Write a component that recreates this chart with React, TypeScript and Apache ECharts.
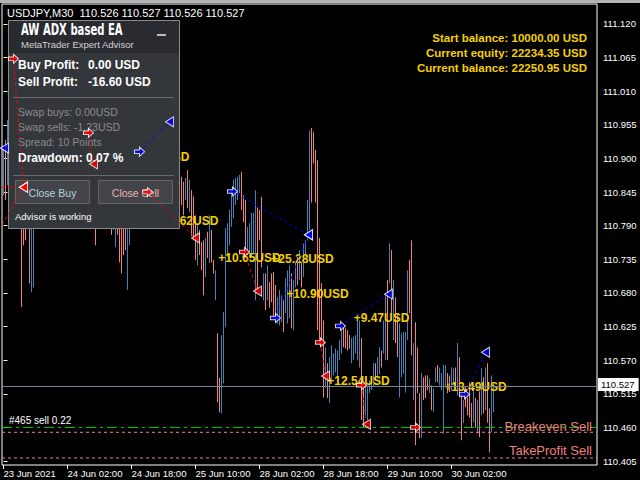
import React, { useEffect, useRef } from 'react';
import * as echarts from 'echarts';

// ---------- data ----------
const xTickLabels = ['23 Jun 2021', '24 Jun 02:00', '24 Jun 18:00', '25 Jun 10:00', '28 Jun 02:00', '28 Jun 18:00', '29 Jun 10:00', '30 Jun 02:00'];
const xTickBars = [0, 32, 64, 96, 128, 160, 192, 224];
const yTicks = [110.405, 110.46, 110.515, 110.57, 110.625, 110.68, 110.735, 110.79, 110.845, 110.9, 110.955, 111.01, 111.065, 111.12];

const barHighs = [
  110.914, 110.930, 110.963, 110.996, 111.036, 111.064, 111.045, 110.979, 110.914, 110.865,
  110.857, 110.848, 110.832, 110.824, 110.807, 110.816, 110.848, 110.865, 110.881, 110.889,
  110.873, 110.865, 110.881, 110.905, 110.914, 110.897, 110.889, 110.914, 110.930, 110.938,
  110.922, 110.914, 110.930, 110.946, 110.963, 110.955, 110.938, 110.955, 110.971, 110.979,
  110.963, 110.971, 110.963, 110.950, 110.930, 110.914, 110.873, 110.857, 110.873, 110.889,
  110.881, 110.865, 110.873, 110.857, 110.840, 110.832, 110.824, 110.832, 110.816, 110.807,
  110.799, 110.807, 110.824, 110.840, 110.865, 110.881, 110.897, 110.914, 110.922, 110.914,
  110.889, 110.873, 110.857, 110.865, 110.889, 110.905, 110.914, 110.922, 110.930, 110.938,
  110.946, 110.950, 110.959, 110.966, 110.946, 110.922, 110.905, 110.889, 110.881, 110.870,
  110.862, 110.868, 110.881, 110.865, 110.848, 110.838, 110.807, 110.791, 110.783, 110.763,
  110.766, 110.770, 110.780, 110.807, 110.783, 110.734, 110.717, 110.614, 110.541, 110.611,
  110.649, 110.786, 110.794, 110.816, 110.848, 110.865, 110.868, 110.870, 110.873, 110.878,
  110.840, 110.832, 110.788, 110.794, 110.811, 110.811, 110.848, 110.820, 110.816, 110.837,
  110.712, 110.712, 110.725, 110.698, 110.712, 110.714, 110.693, 110.673, 110.685, 110.676,
  110.668, 110.704, 110.717, 110.725, 110.712, 110.701, 110.729, 110.739, 110.750, 110.730,
  110.761, 110.766, 110.832, 110.946, 110.950, 110.943, 110.914, 110.897, 110.770, 110.696,
  110.635, 110.591, 110.565, 110.575, 110.594, 110.581, 110.589, 110.586, 110.603, 110.619,
  110.624, 110.622, 110.619, 110.611, 110.606, 110.608, 110.611, 110.635, 110.635, 110.606,
  110.526, 110.532, 110.526, 110.537, 110.542, 110.565, 110.565, 110.575, 110.591, 110.586,
  110.635, 110.679, 110.701, 110.761, 110.750, 110.701, 110.673, 110.647, 110.630, 110.614,
  110.616, 110.616, 110.717, 110.734, 110.766, 110.598, 110.632, 110.591, 110.516, 110.549,
  110.542, 110.545, 110.545, 110.540, 110.529, 110.524, 110.558, 110.562, 110.558, 110.549,
  110.562, 110.562, 110.549, 110.545, 110.558, 110.557, 110.558, 110.598, 110.575, 110.516,
  110.505, 110.526, 110.509, 110.534, 110.500, 110.524, 110.508, 110.505, 110.519, 110.557,
  110.542, 110.558, 110.565, 110.491, 110.545, 110.532,
];
const barLows = [
  110.840, 110.832, 110.856, 110.881, 110.946, 110.979, 110.930, 110.881, 110.832, 110.657,
  110.758, 110.766, 110.791, 110.696, 110.681, 110.689, 110.799, 110.807, 110.824, 110.832,
  110.816, 110.799, 110.832, 110.848, 110.865, 110.840, 110.816, 110.857, 110.873, 110.889,
  110.865, 110.848, 110.881, 110.897, 110.905, 110.889, 110.881, 110.897, 110.914, 110.930,
  110.914, 110.922, 110.930, 110.897, 110.873, 110.848, 110.758, 110.799, 110.824, 110.832,
  110.816, 110.799, 110.807, 110.791, 110.775, 110.783, 110.755, 110.775, 110.730, 110.712,
  110.742, 110.750, 110.685, 110.758, 110.807, 110.824, 110.840, 110.865, 110.873, 110.857,
  110.848, 110.832, 110.816, 110.824, 110.840, 110.857, 110.873, 110.881, 110.889, 110.897,
  110.905, 110.897, 110.914, 110.922, 110.897, 110.873, 110.857, 110.832, 110.816, 110.824,
  110.807, 110.832, 110.819, 110.812, 110.773, 110.766, 110.734, 110.725, 110.742, 110.717,
  110.676, 110.706, 110.737, 110.729, 110.730, 110.712, 110.668, 110.501, 110.485, 110.483,
  110.532, 110.624, 110.739, 110.758, 110.788, 110.802, 110.824, 110.832, 110.843, 110.816,
  110.796, 110.747, 110.750, 110.739, 110.739, 110.745, 110.668, 110.685, 110.766, 110.722,
  110.668, 110.652, 110.668, 110.656, 110.665, 110.640, 110.635, 110.630, 110.627, 110.632,
  110.616, 110.647, 110.630, 110.639, 110.622, 110.619, 110.689, 110.693, 110.701, 110.689,
  110.706, 110.739, 110.766, 110.783, 110.828, 110.892, 110.828, 110.619, 110.599, 110.603,
  110.509, 110.525, 110.508, 110.500, 110.542, 110.545, 110.550, 110.542, 110.570, 110.581,
  110.591, 110.589, 110.586, 110.589, 110.565, 110.570, 110.581, 110.570, 110.558, 110.472,
  110.460, 110.476, 110.472, 110.516, 110.521, 110.526, 110.537, 110.540, 110.547, 110.558,
  110.581, 110.570, 110.570, 110.696, 110.635, 110.603, 110.598, 110.575, 110.509, 110.542,
  110.548, 110.517, 110.603, 110.647, 110.578, 110.505, 110.431, 110.516, 110.442, 110.443,
  110.505, 110.508, 110.521, 110.516, 110.488, 110.485, 110.534, 110.534, 110.529, 110.521,
  110.450, 110.526, 110.516, 110.518, 110.521, 110.529, 110.524, 110.512, 110.509, 110.439,
  110.467, 110.493, 110.480, 110.476, 110.460, 110.468, 110.459, 110.450, 110.444, 110.480,
  110.483, 110.488, 110.468, 110.419, 110.452, 110.485,
];
// 1 = bull bar (blue), 0 = bear bar (salmon)
const barUp = [
  1, 0, 1, 1, 1, 0, 0, 0, 0, 0,
  0, 0, 1, 0, 1, 1, 1, 1, 1, 0,
  0, 1, 1, 1, 0, 0, 1, 1, 1, 0,
  0, 1, 1, 1, 0, 0, 1, 1, 1, 0,
  1, 1, 0, 0, 0, 0, 0, 1, 1, 0,
  0, 1, 0, 0, 0, 1, 1, 0, 0, 0,
  0, 0, 1, 1, 1, 1, 1, 0, 1, 0,
  0, 0, 0, 1, 1, 1, 0, 1, 1, 1,
  0, 1, 1, 0, 0, 0, 0, 0, 0, 0,
  0, 1, 0, 1, 0, 0, 0, 1, 0, 0,
  0, 1, 0, 1, 0, 0, 1, 0, 0, 1,
  1, 1, 1, 1, 1, 1, 1, 1, 1, 0,
  0, 0, 1, 1, 1, 1, 1, 0, 0, 0,
  1, 0, 1, 0, 0, 0, 0, 1, 1, 1,
  0, 1, 1, 1, 0, 1, 1, 0, 1, 0,
  1, 1, 1, 1, 0, 0, 0, 0, 0, 0,
  0, 1, 0, 1, 1, 1, 1, 1, 1, 1,
  0, 0, 0, 0, 1, 1, 1, 1, 1, 0,
  0, 1, 1, 1, 1, 1, 0, 1, 1, 0,
  1, 1, 0, 1, 0, 1, 0, 0, 1, 1,
  1, 1, 1, 0, 0, 1, 0, 0, 0, 1,
  0, 0, 0, 1, 0, 1, 1, 0, 1, 1,
  1, 1, 0, 0, 1, 1, 0, 1, 0, 0,
  1, 0, 0, 0, 0, 1, 0, 1, 0, 1,
  0, 1, 0, 0, 1, 1,
];

// trades: [openBar, openPrice, closeBar, closePrice]
const sellTrades = [
  [-10, 110.853, 10, 110.853],
  [-5, 110.766, 10, 110.853],
  [5, 111.063, 10, 110.853],
  [42.5, 110.942, 45, 110.891],
  [72, 110.845, 96, 110.770],
  [120.5, 110.747, 127, 110.683],
  [158.5, 110.599, 161, 110.544],
  [179, 110.529, 181.5, 110.465],
];
const buyTrades = [
  [68, 110.911, 83, 110.960],
  [114.5, 110.846, 152.5, 110.775],
  [136, 110.639, 152.5, 110.775],
  [168.5, 110.626, 192.5, 110.678],
  [230.5, 110.514, 241, 110.583],
];
const extraBuyCloses = [[0.5, 110.917]];
const openSell = [206, 110.460];

const profitTexts = ['+11.41USD', '+9.62USD', '+10.65USD', '+25.28USD', '+10.90USD', '+9.47USD', '+12.54USD', '+13.49USD'];
const profitBars = [77.5, 93.5, 123, 149.5, 157, 189, 177.5, 236];
const profitPrices = [110.902, 110.797, 110.737, 110.735, 110.678, 110.639, 110.536, 110.526];

const currentPrice = 110.527;
const orderPrice = 110.460;
const breakevenPrice = 110.452;
const takeProfitPrice = 110.410;

const headerText = 'USDJPY,M30  110.526 110.527 110.526 110.527';
const balanceLines = ['Start balance: 10000.00 USD', 'Current equity: 22234.35 USD', 'Current balance: 22250.95 USD'];

// ---------- styles ----------
const SALMON = '#f08080';
const STEEL = '#4682b4';
const YELLOW = '#f5d000';
const GREEN = '#00cc00';
const FONT = 'Liberation Sans';
const X_MIN = -0.75;
const X_MAX = 296.75;
const Y_MIN = 110.3985;
const Y_MAX = 111.1527;
const CLEAR = 'rgba(0,0,0,0)';

const OPEN_ARROW = 'path://M0,3 L5,3 L5,0 L10,5 L5,10 L5,7 L0,7 Z';
const CLOSE_ARROW = 'path://M10,0 L10,10 L0,5 Z';

function buildOption() {
  // vertical high-low segments, broken by gaps
  const segs = (up: number) => {
    const d: any[] = [];
    barHighs.forEach((h, i) => {
      if (barUp[i] === up) d.push([i, barLows[i]], [i, h], [i, '-']);
    });
    return d;
  };
  const barSeries = (up: number, color: string) => ({
    type: 'line',
    data: segs(up),
    symbol: 'none',
    showSymbol: false,
    connectNulls: false,
    silent: true,
    clip: true,
    z: 2,
    itemStyle: { color },
    lineStyle: { color, width: 1, opacity: 1 },
  });

  const hLine = (price: number, color: string, type: any, z = 4) => ({
    type: 'line',
    data: [[X_MIN, price], [X_MAX, price]],
    symbol: 'none',
    silent: true,
    clip: true,
    z,
    itemStyle: { color },
    lineStyle: { color, width: 1, type, opacity: 1 },
  });

  const tradeLineSeries: any[] = [];
  const markers: any[] = [];
  const addTrades = (list: number[][], color: string) => {
    list.forEach((t) => {
      tradeLineSeries.push({
        type: 'line',
        data: [[t[0], t[1]], [t[2], t[3]]],
        symbol: 'none',
        silent: true,
        z: 10,
        clip: true,
        lineStyle: { color, width: 1, type: [3, 3] },
      });
      markers.push({ value: [t[0], t[1]], symbol: OPEN_ARROW, symbolSize: [10, 9], itemStyle: { color, borderColor: '#fff', borderWidth: 1 } });
      markers.push({ value: [t[2], t[3]], symbol: CLOSE_ARROW, symbolSize: [8, 10], itemStyle: { color, borderColor: '#fff', borderWidth: 1 } });
    });
  };
  addTrades(sellTrades, '#ff0000');
  addTrades(buyTrades, '#0000ff');
  extraBuyCloses.forEach((p) => markers.push({ value: p, symbol: CLOSE_ARROW, symbolSize: [8, 10], itemStyle: { color: '#0000ff', borderColor: '#fff', borderWidth: 1 } }));
  markers.push({ value: openSell, symbol: OPEN_ARROW, symbolSize: [10, 9], itemStyle: { color: '#ff0000', borderColor: '#fff', borderWidth: 1 } });

  const panelZ = 5;
  const txt = (x: number, y: number, text: string, fill: string, size: number, bold = false, align = 'left', extra: any = {}, family = FONT) => ({
    type: 'text', x, y, z: panelZ + 1,
    style: { text, fill, fontSize: size, fontWeight: bold ? 'bold' : 'normal', fontFamily: family, align, verticalAlign: 'middle' },
    ...extra,
  });

  const graphics: any[] = [
    { type: 'rect', z: 20, shape: { x: 0, y: 0, width: 640, height: 3 }, style: { fill: '#b4b4b4' } },
    { type: 'text', x: 7, y: 13, z: 20, style: { text: headerText, fill: '#fff', fontSize: 11, fontFamily: FONT, verticalAlign: 'middle' } },
    ...balanceLines.map((t, k) => ({ type: 'text', x: 587, y: 38 + k * 15, z: 20, style: { text: t, fill: YELLOW, fontSize: 11.5, fontWeight: 'bold', fontFamily: FONT, align: 'right', verticalAlign: 'middle' } })),
    // panel
    { type: 'rect', z: panelZ, shape: { x: 8.5, y: 20.5, width: 171, height: 208 }, style: { fill: '#33363b', stroke: '#8a8a8a', lineWidth: 1 } },
    { type: 'rect', z: panelZ, shape: { x: 9, y: 21, width: 170, height: 32 }, style: { fill: '#2a2b31' } },
    txt(21, 30, 'AW ADX based EA', '#fff', 16, true, 'left', { scaleX: 0.63 }, 'DejaVu Sans'),
    txt(21, 44, 'MetaTrader Expert Advisor', '#d2d2d2', 9.5),
    { type: 'rect', z: panelZ + 1, shape: { x: 157, y: 34, width: 9, height: 2 }, style: { fill: '#bdbdbd' } },
    txt(18, 65, 'Buy Profit:', '#fff', 12, true),
    txt(88, 65, '0.00 USD', '#fff', 12, true),
    txt(18, 82, 'Sell Profit:', '#fff', 12, true),
    txt(88, 82, '-16.60 USD', '#fff', 12, true),
    { type: 'line', z: panelZ + 1, shape: { x1: 13, y1: 97.5, x2: 174, y2: 97.5 }, style: { stroke: '#6a6a6a', lineWidth: 1 } },
    txt(18, 112, 'Swap buys: 0.00USD', '#8c8c8c', 10.5),
    txt(18, 127, 'Swap sells: -1.23USD', '#8c8c8c', 10.5),
    txt(18, 142, 'Spread: 10 Points', '#8c8c8c', 10.5),
    txt(18, 158, 'Drawdown: 0.07 %', '#fff', 12, true),
    { type: 'line', z: panelZ + 1, shape: { x1: 13, y1: 175.5, x2: 174, y2: 175.5 }, style: { stroke: '#6a6a6a', lineWidth: 1 } },
    { type: 'rect', z: panelZ + 1, shape: { x: 15.5, y: 180.5, width: 74, height: 23 }, style: { fill: '#434449', stroke: '#666', lineWidth: 1 } },
    { type: 'rect', z: panelZ + 1, shape: { x: 98.5, y: 180.5, width: 74, height: 23 }, style: { fill: '#434449', stroke: '#666', lineWidth: 1 } },
    txt(52.5, 193, 'Close Buy', '#b4d2dc', 10.5, false, 'center'),
    txt(135.5, 193, 'Close Sell', '#f0b0b0', 10.5, false, 'center'),
    txt(15, 216, 'Advisor is working', '#fff', 9.5),
  ];

  return {
    animation: false,
    backgroundColor: '#000',
    grid: { left: 2, top: 4, width: 595, height: 461, show: true, borderColor: '#fff', borderWidth: 1, backgroundColor: '#000' },
    xAxis: {
      type: 'value', min: X_MIN, max: X_MAX,
      axisLine: { show: false }, splitLine: { show: false },
      axisTick: { show: true, customValues: xTickBars, length: 4, lineStyle: { color: '#fff' } },
      axisLabel: {
        customValues: xTickBars, color: '#fff', fontSize: 9.5, fontFamily: FONT, align: 'left', margin: 3,
        formatter: (v: number) => xTickLabels[Math.round(v / 32)] || '',
      },
    },
    yAxis: {
      type: 'value', position: 'right', min: Y_MIN, max: Y_MAX, scale: true,
      axisLine: { show: false }, splitLine: { show: false },
      axisTick: { show: true, customValues: yTicks, length: 4, lineStyle: { color: '#fff' } },
      axisLabel: { customValues: yTicks, color: '#fff', fontSize: 9.5, fontFamily: FONT, margin: 6, formatter: (v: number) => v.toFixed(3) },
    },
    graphic: { elements: graphics },
    series: [
      barSeries(1, STEEL),
      barSeries(0, SALMON),
      hLine(currentPrice, '#778899', 'solid', 3),
      hLine(orderPrice, GREEN, [10, 4, 3, 4]),
      hLine(breakevenPrice, SALMON, [3, 3]),
      hLine(takeProfitPrice, SALMON, [3, 3]),
      {
        type: 'line',
        data: [],
        silent: true,
        z: 4,
        symbol: 'none',
        markLine: {
          silent: true,
          symbol: ['none', 'none'],
          animation: false,
          lineStyle: { color: CLEAR, width: 0 },
          data: [
            {
              yAxis: currentPrice,
              lineStyle: { color: CLEAR, width: 0 },
              label: { show: true, position: 'end', formatter: currentPrice.toFixed(3), backgroundColor: '#fff', color: '#000', fontSize: 9.5, fontFamily: FONT, padding: [2, 4, 1, 3], distance: 1 },
            },
            {
              yAxis: orderPrice,
              lineStyle: { color: CLEAR, width: 0 },
              label: { show: true, position: 'insideStartTop', formatter: '#465 sell 0.22', color: '#fff', fontSize: 10, fontFamily: FONT, distance: [7, 2] },
            },
            {
              yAxis: breakevenPrice,
              lineStyle: { color: CLEAR, width: 0 },
              label: { show: true, position: 'insideEndTop', formatter: 'Breakeven Sell', color: SALMON, fontSize: 13, fontFamily: FONT, distance: [5, 1] },
            },
            {
              yAxis: takeProfitPrice,
              lineStyle: { color: CLEAR, width: 0 },
              label: { show: true, position: 'insideEndTop', formatter: 'TakeProfit Sell', color: SALMON, fontSize: 13, fontFamily: FONT, distance: [5, 1] },
            },
          ],
        },
      },
      {
        type: 'custom',
        z: 3,
        silent: true,
        data: profitTexts.map((_, k) => [profitBars[k], profitPrices[k]]),
        encode: { x: 0, y: 1 },
        renderItem: (params: any, api: any) => {
          const p = api.coord([api.value(0), api.value(1)]);
          return {
            type: 'text', x: p[0], y: p[1],
            style: { text: profitTexts[params.dataIndex], fill: YELLOW, fontSize: 12, fontWeight: 'bold', fontFamily: FONT, align: 'center', verticalAlign: 'middle' },
          };
        },
      },
      ...tradeLineSeries,
      {
        type: 'scatter',
        z: 11,
        silent: true,
        clip: true,
        data: markers,
      },
    ],
  };
}

export default function App() {
  const ref = useRef<HTMLDivElement>(null);
  useEffect(() => {
    const chart = echarts.init(ref.current as HTMLDivElement, null, { renderer: 'svg' });
    chart.setOption(buildOption() as any);
    return () => chart.dispose();
  }, []);
  return (
    <div
      ref={ref}
      style={{ position: 'fixed', left: 0, top: 0, width: 640, height: 480, background: '#000' }}
    />
  );
}
